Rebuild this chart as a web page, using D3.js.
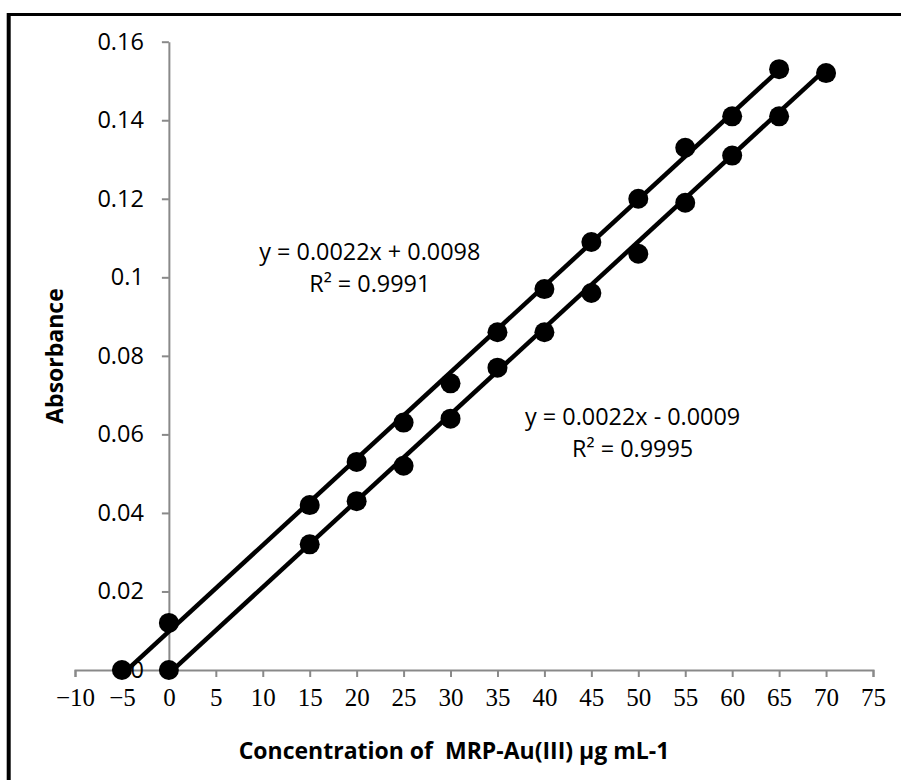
<!DOCTYPE html>
<html>
  <head>
    <meta charset="utf-8">
    <script src="https://d3js.org/d3.v7.min.js"></script>
    <title></title>
    <style>
    body {
      margin: 0;
      background-color: #fff;
    }
    svg {
      display: block;
      background-color: #fff;
    }
    .axis path, .axis line {
      stroke: #898989;
      stroke-width: 2px;
    }
    .ytick text {
      font-family: "Open Sans", sans-serif;
      font-size: 23.5px;
      fill: #000;
    }
    .xtick text {
      font-family: "Liberation Serif", serif;
      font-size: 25px;
      fill: #000;
    }
    .title {
      font-family: "Open Sans", sans-serif;
      font-size: 23px;
      font-weight: bold;
      white-space: pre;
    }
    .eq {
      font-family: "Open Sans", sans-serif;
      font-size: 23.4px;
    }
    .trend {
      fill: none;
      stroke: #000;
      stroke-width: 4.5px;
    }
    </style>
  </head>
  <body>
    <script type="text/javascript">
      // series 1 (upper) and series 2 (lower)
      let x1 = [-5, 0, 15, 20, 25, 30, 35, 40, 45, 50, 55, 60, 65]
      let y1 = [0, 0.012, 0.042, 0.053, 0.063, 0.073, 0.086, 0.097, 0.109, 0.120, 0.133, 0.141, 0.153]
      let x2 = [0, 15, 20, 25, 30, 35, 40, 45, 50, 55, 60, 65, 70]
      let y2 = [0, 0.032, 0.043, 0.052, 0.064, 0.077, 0.086, 0.096, 0.106, 0.119, 0.131, 0.141, 0.152]

      // trendline fits shown on the chart
      let slopes = [0.0022, 0.0022]
      let intercepts = [0.0098, -0.0009]
      let eqLabels = [['y = 0.0022x + 0.0098', 'R² = 0.9991'], ['y = 0.0022x - 0.0009', 'R² = 0.9995']]

      let xTicks = [-10, -5, 0, 5, 10, 15, 20, 25, 30, 35, 40, 45, 50, 55, 60, 65, 70, 75]
      let xTickLabels = ['−10', '−5', '0', '5', '10', '15', '20', '25', '30', '35', '40', '45', '50', '55', '60', '65', '70', '75']
      let yTicks = [0, 0.02, 0.04, 0.06, 0.08, 0.1, 0.12, 0.14, 0.16]
      let yTickLabels = ['0', '0.02', '0.04', '0.06', '0.08', '0.1', '0.12', '0.14', '0.16']

      let w = 901
      let h = 780

      let svg = d3.select('body')
                  .append('svg')
                  .attr('width', w)
                  .attr('height', h)

      // frame (top and left edges only)
      svg.append('line')
         .attr('x1', 7).attr('x2', w).attr('y1', 14.5).attr('y2', 14.5)
         .attr('stroke', '#000').attr('stroke-width', 3)
      svg.append('line')
         .attr('x1', 8.7).attr('x2', 8.7).attr('y1', 13).attr('y2', h)
         .attr('stroke', '#000').attr('stroke-width', 4)

      let xScale = d3.scaleLinear()
                     .domain([-10, 75])
                     .range([75, 873])
      let yScale = d3.scaleLinear()
                     .domain([0, 0.16])
                     .range([670, 41.7])

      // x axis at y = 0
      let xAxis = svg.append('g')
         .attr('class', 'axis xtick')
         .attr('transform', `translate(0, ${yScale(0)})`)
         .call(d3.axisBottom(xScale)
                 .tickValues(xTicks)
                 .tickFormat((d, i) => xTickLabels[i])
                 .tickSize(7)
                 .tickSizeOuter(7)
                 .tickPadding(11))
      xAxis.selectAll('text').attr('dy', '0.71em')

      // y axis at x = 0
      svg.append('g')
         .attr('class', 'axis ytick')
         .attr('transform', `translate(${xScale(0)}, 0)`)
         .call(d3.axisLeft(yScale)
                 .tickValues(yTicks)
                 .tickFormat((d, i) => yTickLabels[i])
                 .tickSize(7)
                 .tickSizeOuter(0)
                 .tickPadding(18))

      // trendlines
      let series = [
        {xs: x1, ys: y1, m: slopes[0], b: intercepts[0]},
        {xs: x2, ys: y2, m: slopes[1], b: intercepts[1]}
      ]
      let line = d3.line()
                   .x(d => xScale(d[0]))
                   .y(d => yScale(d[1]))
      series.forEach(s => {
        let ends = [d3.min(s.xs), d3.max(s.xs)].map(x => [x, s.m * x + s.b])
        svg.append('path')
           .attr('class', 'trend')
           .datum(ends)
           .attr('d', line)
      })

      // markers
      series.forEach(s => {
        svg.selectAll(null)
           .data(s.xs.map((x, i) => [x, s.ys[i]]))
           .enter()
           .append('circle')
           .attr('r', 10)
           .attr('cx', d => xScale(d[0]))
           .attr('cy', d => yScale(d[1]))
           .style('fill', '#000')
      })

      // equation labels
      let eqPos = [[21.4, 0.1044], [49.4, 0.0624]]
      eqLabels.forEach((lab, i) => {
        let t = svg.append('text')
                   .attr('class', 'eq')
                   .attr('text-anchor', 'middle')
                   .attr('x', xScale(eqPos[i][0]))
                   .attr('y', yScale(eqPos[i][1]))
        t.append('tspan').attr('x', xScale(eqPos[i][0])).text(lab[0])
        t.append('tspan').attr('x', xScale(eqPos[i][0])).attr('dy', 32).text(lab[1])
      })

      // axis titles
      svg.append('text')
         .attr('class', 'title')
         .attr('text-anchor', 'middle')
         .attr('transform', 'translate(63, 356) rotate(-90)')
         .text('Absorbance')
      svg.append('text')
         .attr('class', 'title')
         .attr('text-anchor', 'middle')
         .attr('x', 454)
         .attr('y', 759)
         .text('Concentration of  MRP-Au(III) µg mL-1')
    </script>
  </body>
</html>
